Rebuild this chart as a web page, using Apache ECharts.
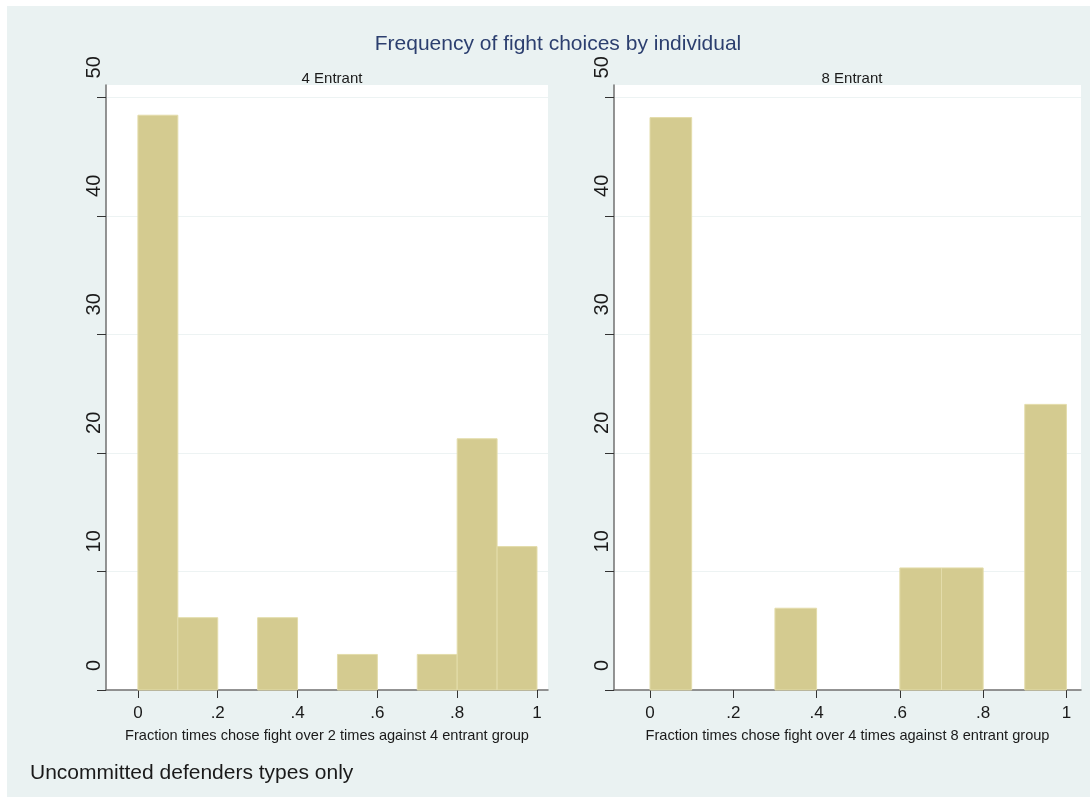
<!DOCTYPE html>
<html>
<head>
<meta charset="utf-8">
<title>Frequency of fight choices by individual</title>
<script src="https://cdn.jsdelivr.net/npm/echarts@6/dist/echarts.min.js"></script>
<style>
  html, body { margin: 0; padding: 0; background: #ffffff; }
  #chart { width: 1092px; height: 799px; }
</style>
</head>
<body>
<div id="chart"></div>
<script>
// Histogram bins (fraction of times the defender chose to fight)
const binEdges = [0, 0.1, 0.2, 0.3, 0.4, 0.5, 0.6, 0.7, 0.8, 0.9, 1.0];

// Percent of individuals in each bin
const pct4Entrant = [48.5, 6.1, 0, 6.1, 0, 3.0, 0, 3.0, 21.2, 12.1];
const pct8Entrant = [48.3, 0, 0, 6.9, 0, 0, 10.3, 10.3, 0, 24.1];

// Axis ticks
const xTickValues = [0, 0.2, 0.4, 0.6, 0.8, 1];
const xTickLabels = ['0', '.2', '.4', '.6', '.8', '1'];
const yTickValues = [0, 10, 20, 30, 40, 50];

// Text
const chartTitle = 'Frequency of fight choices by individual';
const panelTitles = ['4 Entrant', '8 Entrant'];
const xAxisTitles = [
  'Fraction times chose fight over 2 times against 4 entrant group',
  'Fraction times chose fight over 4 times against 8 entrant group'
];
const noteText = 'Uncommitted defenders types only';

const FONT = '"Liberation Sans", Arial, Helvetica, sans-serif';
const BAR_FILL = '#d4cb90';
const BAR_EDGE = '#e3dcaa';

function binData(values) {
  const out = [];
  values.forEach(function (v, i) {
    if (v > 0) out.push([binEdges[i], binEdges[i + 1], v]);
  });
  return out;
}

function renderBin(params, api) {
  const topLeft = api.coord([api.value(0), api.value(2)]);
  const bottomRight = api.coord([api.value(1), 0]);
  return {
    type: 'rect',
    shape: {
      x: topLeft[0],
      y: topLeft[1],
      width: bottomRight[0] - topLeft[0],
      height: bottomRight[1] - topLeft[1]
    },
    style: { fill: BAR_FILL, stroke: BAR_EDGE, lineWidth: 1 }
  };
}

function xLabel(v) {
  let best = 0;
  xTickValues.forEach(function (t, i) {
    if (Math.abs(t - v) < Math.abs(xTickValues[best] - v)) best = i;
  });
  return xTickLabels[best];
}

function makeXAxis(idx, min, max) {
  return {
    type: 'value',
    gridIndex: idx,
    min: min,
    max: max,
    name: xAxisTitles[idx],
    nameLocation: 'middle',
    nameGap: 38,
    nameTextStyle: { fontFamily: FONT, fontSize: 14.6, color: '#1a1a1a' },
    axisLine: { show: true, onZero: false, lineStyle: { color: '#707070', width: 1.5 } },
    axisTick: {
      show: true, length: 8, customValues: xTickValues,
      lineStyle: { color: '#333333', width: 1 }
    },
    axisLabel: {
      customValues: xTickValues,
      formatter: xLabel,
      margin: 15,
      fontFamily: FONT, fontSize: 17, color: '#1a1a1a'
    },
    splitLine: { show: false }
  };
}

function makeYAxis(idx) {
  return {
    type: 'value',
    gridIndex: idx,
    min: 0,
    max: 51.05,
    interval: 10,
    axisLine: { show: true, onZero: false, lineStyle: { color: '#707070', width: 1.5 } },
    axisTick: {
      show: true, length: 9, customValues: yTickValues,
      lineStyle: { color: '#333333', width: 1 }
    },
    axisLabel: {
      customValues: yTickValues,
      rotate: 90,
      align: 'left',
      verticalAlign: 'middle',
      padding: [0, 0, 0, 19],
      margin: 12,
      fontFamily: FONT, fontSize: 20, color: '#1a1a1a'
    },
    splitLine: { show: true, lineStyle: { color: '#edf3f3', width: 1 } }
  };
}

const chart = echarts.init(document.getElementById('chart'), null, { renderer: 'canvas' });

chart.setOption({
  backgroundColor: '#ffffff',
  animation: false,
  graphic: [{
    type: 'rect',
    z: -10,
    silent: true,
    shape: { x: 7, y: 6, width: 1083, height: 791 },
    style: { fill: '#eaf2f2' }
  }],
  title: [
    {
      text: chartTitle, left: 553, top: 29, textAlign: 'center',
      textStyle: { fontFamily: FONT, fontSize: 21, fontWeight: 'normal', color: '#2c3f6f' }
    },
    {
      text: panelTitles[0], left: 327, top: 66, textAlign: 'center',
      textStyle: { fontFamily: FONT, fontSize: 15, fontWeight: 'normal', color: '#1a1a1a' }
    },
    {
      text: panelTitles[1], left: 847, top: 66, textAlign: 'center',
      textStyle: { fontFamily: FONT, fontSize: 15, fontWeight: 'normal', color: '#1a1a1a' }
    },
    {
      text: noteText, left: 25, top: 758,
      textStyle: { fontFamily: FONT, fontSize: 21, fontWeight: 'normal', color: '#1a1a1a' }
    }
  ],
  grid: [
    { left: 106, top: 85, width: 442, height: 605, show: true, backgroundColor: '#ffffff', borderWidth: 0 },
    { left: 614, top: 85, width: 467, height: 605, show: true, backgroundColor: '#ffffff', borderWidth: 0 }
  ],
  xAxis: [
    makeXAxis(0, -0.080, 1.0276),
    makeXAxis(1, -0.0865, 1.035)
  ],
  yAxis: [makeYAxis(0), makeYAxis(1)],
  series: [
    {
      type: 'custom', xAxisIndex: 0, yAxisIndex: 0,
      renderItem: renderBin,
      encode: { x: [0, 1], y: 2 },
      data: binData(pct4Entrant)
    },
    {
      type: 'custom', xAxisIndex: 1, yAxisIndex: 1,
      renderItem: renderBin,
      encode: { x: [0, 1], y: 2 },
      data: binData(pct8Entrant)
    }
  ]
});
</script>
</body>
</html>
